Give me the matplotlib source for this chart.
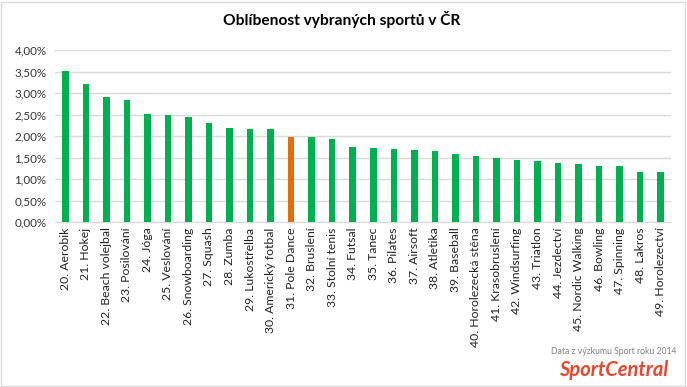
import matplotlib.pyplot as plt
from matplotlib.patches import Rectangle
from matplotlib.ticker import FuncFormatter

plt.rcParams["font.family"] = ["Lato", "DejaVu Sans"]

# =====================================================
# DATA
# =====================================================

sports = [
    "20. Aerobik", "21. Hokej", "22. Beach volejbal", "23. Posilování",
    "24. Jóga", "25. Veslování", "26. Snowboarding", "27. Squash",
    "28. Zumba", "29. Lukostřelba", "30. Americký fotbal", "31. Pole Dance",
    "32. Bruslení", "33. Stolní tenis", "34. Futsal", "35. Tanec",
    "36. Pilates", "37. Airsoft", "38. Atletika", "39. Baseball",
    "40. Horolezecká stěna", "41. Krasobruslení", "42. Windsurfing",
    "43. Triatlon", "44. Jezdectví", "45. Nordic Walking", "46. Bowling",
    "47. Spinning", "48. Lakros", "49. Horolezectví",
]

share = [
    3.52, 3.22, 2.91, 2.84, 2.52, 2.49, 2.45, 2.31, 2.19, 2.17,
    2.17, 1.98, 1.98, 1.93, 1.75, 1.72, 1.70, 1.68, 1.65, 1.58,
    1.54, 1.49, 1.45, 1.42, 1.38, 1.35, 1.31, 1.31, 1.17, 1.17,
]

highlight = "31. Pole Dance"

GREEN = "#00B050"
ORANGE = "#E46C0A"

# =====================================================
# PLOT
# =====================================================

fig = plt.figure(figsize=(6.87, 3.87), dpi=100)
ax = fig.add_axes([55 / 687, 1 - 222 / 387, (671 - 55) / 687, (222 - 50.3) / 387])

colors = [ORANGE if s == highlight else GREEN for s in sports]
ax.bar(range(len(sports)), share, width=0.32, color=colors, zorder=3)

ax.set_xlim(-0.5, len(sports) - 0.5)
ax.set_ylim(0, 4)
ax.set_yticks([i * 0.5 for i in range(9)])
ax.yaxis.set_major_formatter(FuncFormatter(lambda v, p: f"{v:.2f}%".replace(".", ",")))

ax.set_xticks(range(len(sports)))
ax.set_xticklabels(sports, rotation=90, fontsize=8.8, color="#222222")
ax.tick_params(axis="y", labelsize=8.4, labelcolor="#333333", length=0, pad=6)
ax.tick_params(axis="x", length=0, pad=4)

ax.grid(True, axis="y", color="#D9D9D9", linewidth=1, zorder=0)
for side in ["top", "right", "left"]:
    ax.spines[side].set_visible(False)
ax.spines["bottom"].set_color("#D9D9D9")

fig.text(342 / 687, 1 - 20 / 387, "Oblíbenost vybraných sportů v ČR",
         ha="center", va="center", fontsize=11.2, fontweight="bold", color="#000000")

fig.text(676 / 687, 1 - 352 / 387, "Data z výzkumu Sport roku 2014",
         ha="right", va="center", fontsize=6.2, color="#808080")
fig.text(668 / 687, 1 - 370 / 387, "SportCentral",
         ha="right", va="center", fontsize=14.5, fontweight="bold",
         fontstyle="italic", color="#E8452C")

# ramecek grafu
fig.patches.append(Rectangle((1 / 687, 1 / 387), 684 / 687, 384 / 387,
                             transform=fig.transFigure, fill=False,
                             edgecolor="#D9D9D9", linewidth=1))

fig.savefig("out.png", dpi=100)
